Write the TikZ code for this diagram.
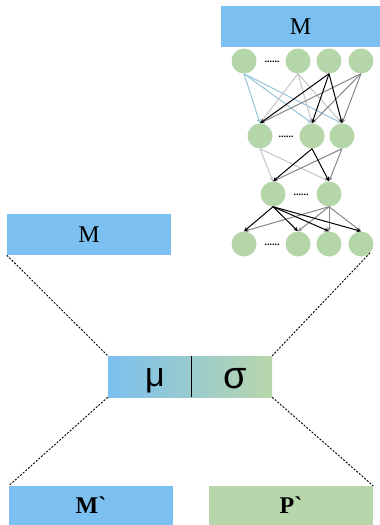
\documentclass[tikz,border=0pt]{standalone}
\usepackage{fontspec}
\setmainfont{Liberation Serif}[Ligatures=TeXOff]
\newfontfamily\letterfont{Liberation Sans}
\usetikzlibrary{arrows.meta}
\definecolor{boxblue}{HTML}{7BC0F0}
\definecolor{boxgreen}{HTML}{B8D6AB}
\definecolor{neuron}{HTML}{B5D6A9}
\definecolor{edgeblue}{HTML}{95C6D8}
\definecolor{edgelight}{HTML}{C4C4C4}
\definecolor{edgegray}{HTML}{858585}
\tikzset{
  block/.style={minimum width=164pt, minimum height=41pt, inner sep=0pt,
    font=\fontsize{24}{24}\selectfont},
  unit/.style={circle, fill=neuron, minimum size=25pt, inner sep=0pt},
  gap/.style={font=\fontsize{10}{10}\selectfont\bfseries, inner sep=0pt},
  link/.style={line width=1pt, -{Stealth[length=4.5pt, width=4pt]}},
  zoomline/.style={line width=0.9pt, dash pattern=on 2pt off 1.5pt}
}
\begin{document}
\begin{tikzpicture}[x=1pt, y=-1pt]
  \useasboundingbox (0, 0) rectangle (380, 525);

  % boxes
  \node[block, fill=boxblue, minimum width=159pt] (mtop) at (300.5, 26.5) {M};
  \node[block, fill=boxblue] (mleft) at (89, 234.5) {M};
  \node[block, left color=boxblue, right color=boxgreen] (musig) at (190, 376.5) {};
  \node[block, fill=boxblue, minimum height=39pt] (mout) at (91, 505.5) {\bfseries M`};
  \node[block, fill=boxgreen, minimum height=39pt] (pout) at (291, 505.5) {\bfseries P`};
  \draw[line width=1pt] ([xshift=1pt]musig.north) -- ([xshift=1pt]musig.south);
  \node[anchor=base, inner sep=0pt, font=\fontsize{34}{34}\letterfont] (mu) at (155, 386) {μ};
  \node[anchor=base, inner sep=0pt, font=\fontsize{38}{38}\letterfont] (sigma) at (235, 388) {σ};

  % network
  \foreach \i/\x in {1/244, 2/298, 3/329, 4/361} {
    \node[unit] (a\i) at (\x, 61) {};
    \node[unit] (d\i) at (\x, 244) {};
  }
  \foreach \i/\x in {1/260, 2/312, 3/342}
    \node[unit] (b\i) at (\x, 136) {};
  \foreach \i/\x in {1/273, 2/329}
    \node[unit] (c\i) at (\x, 194) {};
  \node[gap] (adots) at (272, 62) {......};
  \node[gap] (bdots) at (286, 137) {......};
  \node[gap] (cdots) at (301, 195) {......};
  \node[gap] (ddots) at (272, 245) {......};

  \foreach \s/\c in {1/edgeblue, 2/edgelight, 4/edgegray, 3/black}
    \foreach \t in {1, 2, 3}
      \draw[link, \c] (a\s.south) -- (b\t.north);
  \foreach \s/\c in {1/edgelight, 3/edgegray, 2/black}
    \foreach \t in {1, 2}
      \draw[link, \c] (b\s.south) -- (c\t.north);
  \foreach \s/\c in {2/edgegray, 1/black}
    \foreach \t in {1, 2, 3, 4}
      \draw[link, \c] (c\s.south) -- (d\t.north);

  % zoom lines
  \draw[zoomline] (mleft.south west) -- (musig.north west);
  \draw[zoomline] (d4.south east) -- (musig.north east);
  \draw[zoomline] (musig.south west) -- (mout.north west);
  \draw[zoomline] (musig.south east) -- (pout.north east);
\end{tikzpicture}
\end{document}
